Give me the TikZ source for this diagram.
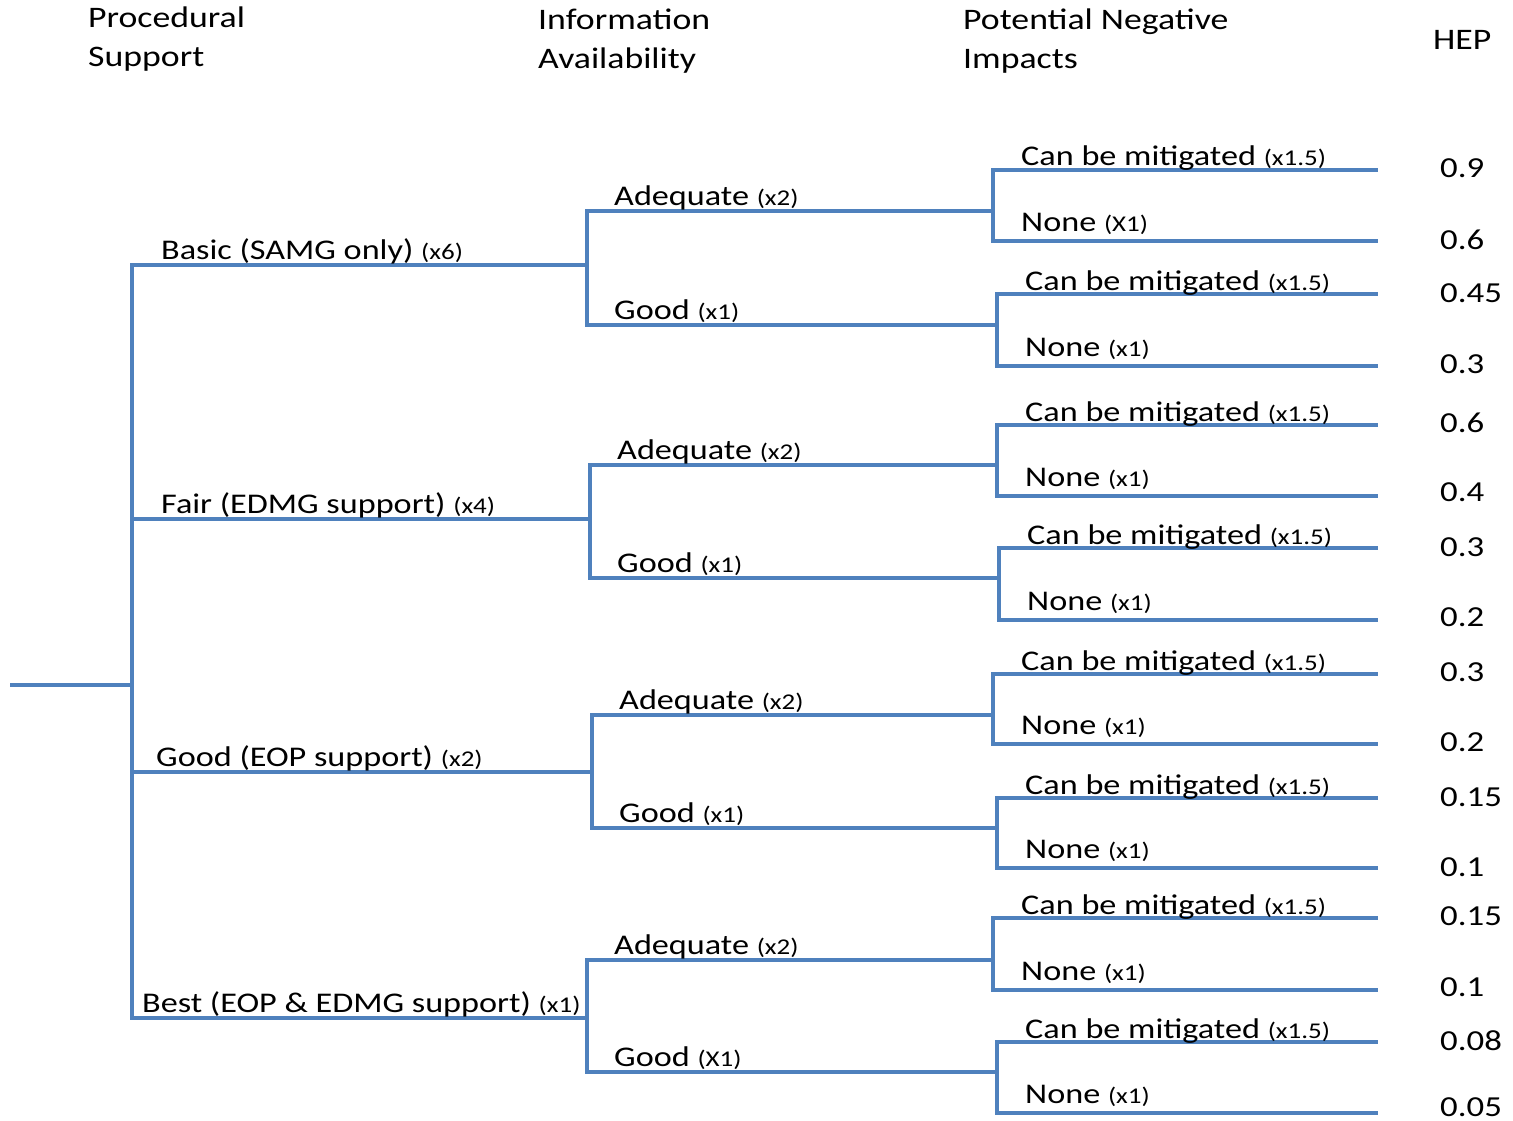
\documentclass[tikz,border=0pt]{standalone}
\usepackage{fontspec}
\setmainfont{Carlito}[FakeStretch=1.2]
\usetikzlibrary{positioning}
\definecolor{branchblue}{RGB}{79,129,189}

\tikzset{
  branch/.style={draw=branchblue, line width=3.3pt},
  lbl/.style={anchor=base west, inner sep=0pt, font=\fontsize{28.5}{34}\selectfont},
  head/.style={anchor=base west, inner sep=0pt, align=left, font=\fontsize{29.8}{39}\selectfont},
  hep/.style={anchor=west, inner sep=0pt, font=\fontsize{29}{34}\selectfont},
}
\newcommand{\mlt}[1]{{\fontsize{22.5}{26}\selectfont(#1)}}

\begin{document}
\begin{tikzpicture}[x=1pt, y=-1pt]
    \useasboundingbox (0,0) rectangle (1513,1121);

    % Intestazioni
    \node[head] (h-proc) at (88,67) {Procedural\\Support};
    \node[head] (h-info) at (538,69) {Information\\Availability};
    \node[head] (h-neg) at (963,69) {Potential Negative\\Impacts};
    \node[head, anchor=west] (h-hep) at (1433,40) {HEP};

    % Radice e supporto procedurale
    \coordinate (start) at (10,685);
    \coordinate (r) at (132,685);
    \coordinate (s1) at (587,265);
    \coordinate (s2) at (590,519);
    \coordinate (s3) at (592,772);
    \coordinate (s4) at (587,1018);
    \draw[branch] (start) -- (r);
    \draw[branch] (r) |- (s1);
    \draw[branch] (r) |- (s2);
    \draw[branch] (r) |- (s3);
    \draw[branch] (r) |- (s4);
    \node[lbl] (s1-lbl) at (161,259) {Basic (SAMG only) \mlt{x6}};
    \node[lbl] (s2-lbl) at (161,513) {Fair (EDMG support) \mlt{x4}};
    \node[lbl] (s3-lbl) at (156,766) {Good (EOP support) \mlt{x2}};
    \node[lbl] (s4-lbl) at (142,1012) {Best (EOP \& EDMG support) \mlt{x1}};

    % Disponibilita' delle informazioni
    \foreach \p/\c/\x/\y/\t in {
        s1/s11/993/211/Adequate \mlt{x2},
        s1/s12/997/325/Good \mlt{x1},
        s2/s21/997/465/Adequate \mlt{x2},
        s2/s22/999/578/Good \mlt{x1},
        s3/s31/993/715/Adequate \mlt{x2},
        s3/s32/997/828/Good \mlt{x1},
        s4/s41/993/960/Adequate \mlt{x2},
        s4/s42/997/1072/Good \mlt{X1}}
    {
        \coordinate (\c) at (\x,\y);
        \draw[branch] (\p) |- (\c);
        \path (\p |- \c) ++(27,-6) node[lbl] (\c-lbl) {\t};
    }

    % Impatti negativi potenziali
    \foreach \c/\yt/\yb/\nt in {
        s11/170/241/X1, s12/294/366/x1,
        s21/425/496/x1, s22/548/620/x1,
        s31/674/744/x1, s32/798/868/x1,
        s41/918/990/x1, s42/1042/1113/x1}
    {
        \coordinate (\c-a) at (1378,\yt);
        \coordinate (\c-b) at (1378,\yb);
        \draw[branch] (\c) |- (\c-a);
        \draw[branch] (\c) |- (\c-b);
        \path (\c |- \c-a) ++(28,-4) node[lbl] (\c-a-lbl) {Can be mitigated \mlt{x1.5}};
        \path (\c |- \c-b) ++(28,-10) node[lbl] (\c-b-lbl) {None \mlt{\nt}};
    }

    % HEP
    \foreach \v/\y [count=\i] in {0.9/168, 0.6/240, 0.45/293, 0.3/364,
        0.6/423, 0.4/492, 0.3/547, 0.2/617, 0.3/672, 0.2/742, 0.15/797,
        0.1/867, 0.15/916, 0.1/987, 0.08/1041, 0.05/1107}
        \node[hep] (hep\i) at (1440,\y) {\v};
\end{tikzpicture}
\end{document}
